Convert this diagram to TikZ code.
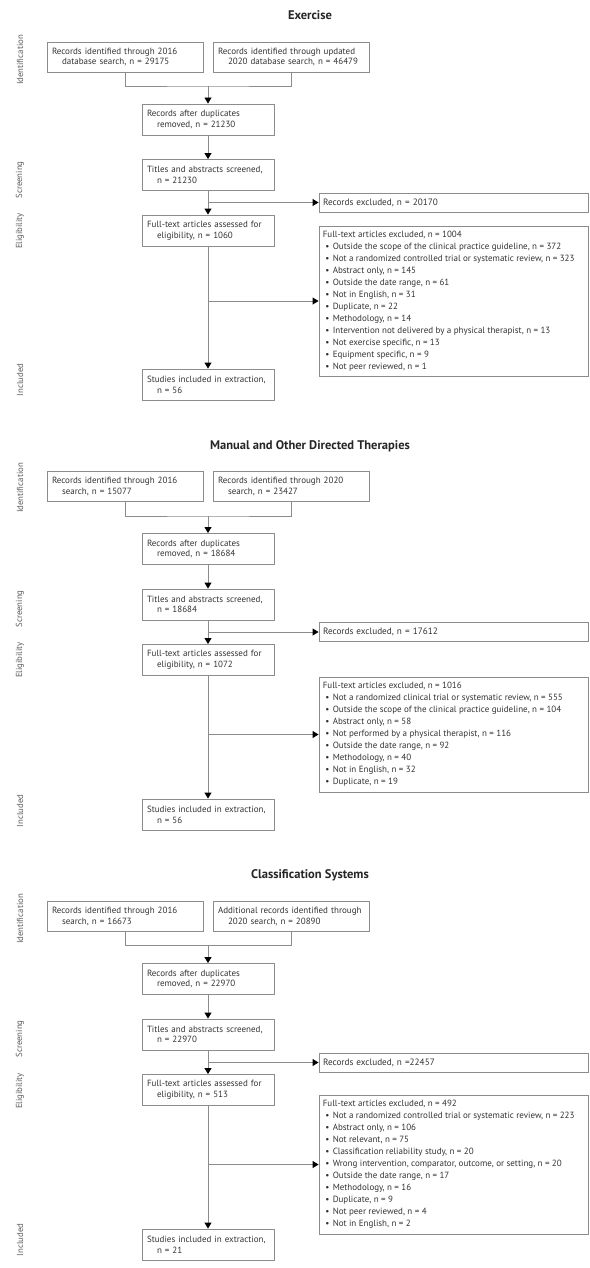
\documentclass[tikz,border=0pt]{standalone}
\usepackage{fontspec}
\setmainfont{PT Sans}
\usetikzlibrary{arrows.meta}
\definecolor{boxc}{HTML}{8C8C8C}
\definecolor{linec}{HTML}{8C8C8C}
\definecolor{txt}{HTML}{333333}
\newcommand{\bitem}{\\\hspace*{2.5pt}\makebox[7.5pt][l]{\textbullet}}
\newcommand{\hind}{\hspace*{10pt}}
\tikzset{
 box/.style={draw=boxc, line width=0.9pt, text=txt, font=\fontsize{9}{10.7}\selectfont, align=left, inner xsep=5pt, inner ysep=0pt, anchor=center},
 boxA/.style={box, text width=146pt, minimum height=30pt},
 boxB/.style={box, text width=122pt, minimum height=31pt},
 boxE/.style={box, inner xsep=4pt, text width=261pt, minimum height=19pt, font=\fontsize{9.2}{11}\selectfont},
 frameF/.style={draw=boxc, line width=0.9pt, minimum width=269pt, inner sep=0pt, anchor=center},
 textF/.style={text=txt, align=left, inner sep=0pt, anchor=west, font=\fontsize{9}{12}\selectfont},
 conn/.style={draw=linec, line width=0.9pt},
 arr/.style={conn, -{Triangle[length=6pt,width=7pt,fill=black,color=black]}},
 side/.style={rotate=90, text=txt!80, font=\fontsize{8.8}{10}\selectfont},
 ttl/.style={font=\bfseries\fontsize{12.5}{14}\selectfont, text=black!85},
}
\begin{document}
\begin{tikzpicture}[x=1pt,y=-1pt]
\useasboundingbox[fill=white] (0,0) rectangle (589,1268);

%% ---------------- Panel 1: Exercise ----------------
\node[ttl] (t1) at (310,15) {Exercise};
\node[side] (s1i) at (20,60) {Identification};
\node[side] (s1s) at (20,180) {Screening};
\node[side] (s1e) at (20,231) {Eligibility};
\node[side] (s1n) at (20,380) {Included};

\node[boxA] (p1a1) at (125,57) {Records identified through 2016\\\hind database search, n = 29175};
\node[boxA] (p1a2) at (291,57) {Records identified through updated\\\hind 2020 database search, n = 46479};
\node[boxB] (p1b) at (208,119.5) {Records after duplicates\\\hind removed, n = 21230};
\node[boxB] (p1c) at (208,175) {Titles and abstracts screened,\\\hind n = 21230};
\node[boxB] (p1d) at (208,230.5) {Full-text articles assessed for\\\hind eligibility, n = 1060};
\node[boxB] (p1g) at (208,384.5) {Studies included in extraction,\\\hind n = 56};
\node[boxE] (p1e) at (453.5,202.5) {Records excluded, n = 20170};
\node[frameF, minimum height=150pt] (p1f) at (453.5,301) {};
\node[textF] (p1ft) at ([xshift=4pt]p1f.west) {Full-text articles excluded, n = 1004%
\bitem Outside the scope of the clinical practice guideline, n = 372%
\bitem Not a randomized controlled trial or systematic review, n = 323%
\bitem Abstract only, n = 145%
\bitem Outside the date range, n = 61%
\bitem Not in English, n = 31%
\bitem Duplicate, n = 22%
\bitem Methodology, n = 14%
\bitem Intervention not delivered by a physical therapist, n = 13%
\bitem Not exercise specific, n = 13%
\bitem Equipment specific, n = 9%
\bitem Not peer reviewed, n = 1};

\coordinate (p1m) at (208,86);
\coordinate (p1x) at (208,202.5);
\coordinate (p1y) at (208,301);
\draw[conn] (p1a1.south) |- (p1m) -| (p1a2.south);
\draw[arr] (p1m) -- (p1b.north);
\draw[arr] (p1b) -- (p1c);
\draw[arr] (p1c) -- (p1d);
\draw[arr] (p1x) -- (p1e.west);
\draw[arr] (p1d) -- (p1g);
\draw[arr] (p1y) -- (p1f.west);

%% ---------------- Panel 2: Manual ----------------
\node[ttl] (t2) at (310,446) {Manual and Other Directed Therapies};
\node[side] (s2i) at (20,488) {Identification};
\node[side] (s2s) at (20,609) {Screening};
\node[side] (s2e) at (20,660) {Eligibility};
\node[side] (s2n) at (20,811) {Included};

\node[boxA] (p2a1) at (125,486.5) {Records identified through 2016\\\hind search, n = 15077};
\node[boxA] (p2a2) at (291,486.5) {Records identified through 2020\\\hind search, n = 23427};
\node[boxB] (p2b) at (208,549) {Records after duplicates\\\hind removed, n = 18684};
\node[boxB] (p2c) at (208,604.5) {Titles and abstracts screened,\\\hind n = 18684};
\node[boxB] (p2d) at (208,660) {Full-text articles assessed for\\\hind eligibility, n = 1072};
\node[boxB] (p2g) at (208,814.5) {Studies included in extraction,\\\hind n = 56};
\node[boxE] (p2e) at (453.5,632) {Records excluded, n = 17612};
\node[frameF, minimum height=115pt] (p2f) at (453.5,734.5) {};
\node[textF] (p2ft) at ([xshift=4pt]p2f.west) {Full-text articles excluded, n = 1016%
\bitem Not a randomized clinical trial or systematic review, n = 555%
\bitem Outside the scope of the clinical practice guideline, n = 104%
\bitem Abstract only, n = 58%
\bitem Not performed by a physical therapist, n = 116%
\bitem Outside the date range, n = 92%
\bitem Methodology, n = 40%
\bitem Not in English, n = 32%
\bitem Duplicate, n = 19};

\coordinate (p2m) at (208,516);
\coordinate (p2x) at (208,632);
\coordinate (p2y) at (208,734.5);
\draw[conn] (p2a1.south) |- (p2m) -| (p2a2.south);
\draw[arr] (p2m) -- (p2b.north);
\draw[arr] (p2b) -- (p2c);
\draw[arr] (p2c) -- (p2d);
\draw[arr] (p2x) -- (p2e.west);
\draw[arr] (p2d) -- (p2g);
\draw[arr] (p2y) -- (p2f.west);

%% ---------------- Panel 3: Classification ----------------
\node[ttl] (t3) at (310,875) {Classification Systems};
\node[side] (s3i) at (20,919) {Identification};
\node[side] (s3s) at (20,1039) {Screening};
\node[side] (s3e) at (20,1091) {Eligibility};
\node[side] (s3n) at (20,1240) {Included};

\node[boxA] (p3a1) at (125,916.5) {Records identified through 2016\\\hind search, n = 16673};
\node[boxA] (p3a2) at (291,916.5) {Additional records identified through\\\hind 2020 search, n = 20890};
\node[boxB] (p3b) at (208,979) {Records after duplicates\\\hind removed, n = 22970};
\node[boxB] (p3c) at (208,1034.5) {Titles and abstracts screened,\\\hind n = 22970};
\node[boxB] (p3d) at (208,1090) {Full-text articles assessed for\\\hind eligibility, n = 513};
\node[boxB] (p3g) at (208,1244.5) {Studies included in extraction,\\\hind n = 21};
\node[boxE] (p3e) at (453.5,1062.5) {Records excluded, n =22457};
\node[frameF, minimum height=139pt] (p3f) at (453.5,1164.5) {};
\node[textF] (p3ft) at ([xshift=4pt]p3f.west) {Full-text articles excluded, n = 492%
\bitem Not a randomized controlled trial or systematic review, n = 223%
\bitem Abstract only, n = 106%
\bitem Not relevant, n = 75%
\bitem Classification reliability study, n = 20%
\bitem Wrong intervention, comparator, outcome, or setting, n = 20%
\bitem Outside the date range, n = 17%
\bitem Methodology, n = 16%
\bitem Duplicate, n = 9%
\bitem Not peer reviewed, n = 4%
\bitem Not in English, n = 2};

\coordinate (p3m) at (208,945);
\coordinate (p3x) at (208,1062.5);
\coordinate (p3y) at (208,1164.5);
\draw[conn] (p3a1.south) |- (p3m) -| (p3a2.south);
\draw[arr] (p3m) -- (p3b.north);
\draw[arr] (p3b) -- (p3c);
\draw[arr] (p3c) -- (p3d);
\draw[arr] (p3x) -- (p3e.west);
\draw[arr] (p3d) -- (p3g);
\draw[arr] (p3y) -- (p3f.west);
\end{tikzpicture}
\end{document}
